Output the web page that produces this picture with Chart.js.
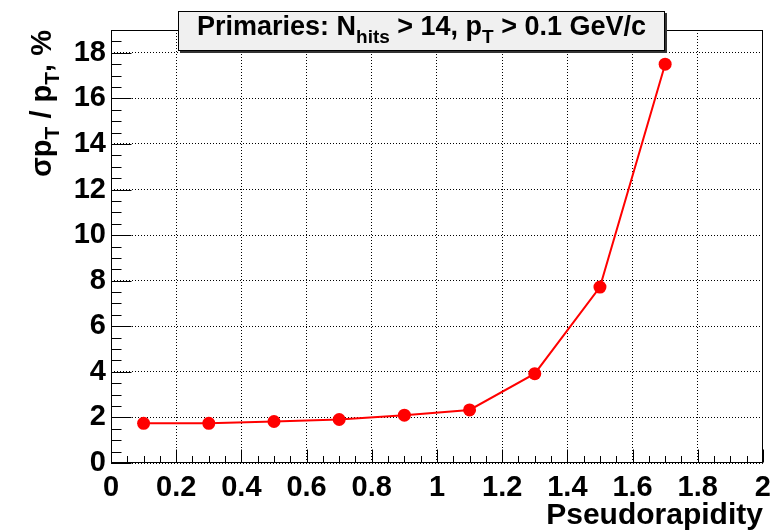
<!DOCTYPE html>
<html><head><meta charset="utf-8">
<script src="https://cdn.jsdelivr.net/npm/chart.js@4/dist/chart.umd.min.js"></script>
<style>html,body{margin:0;padding:0;background:#fff;overflow:hidden}</style>
</head><body>
<canvas id="c" width="779" height="531"></canvas>
<script>
// ---- data ----
const etaValues = [0.1, 0.3, 0.5, 0.7, 0.9, 1.1, 1.3, 1.5, 1.7];
const resolution = [1.74, 1.74, 1.82, 1.91, 2.10, 2.33, 3.92, 7.72, 17.5];
const xTickValues = [0, 0.2, 0.4, 0.6, 0.8, 1, 1.2, 1.4, 1.6, 1.8, 2];
const xTickLabels = ['0', '0.2', '0.4', '0.6', '0.8', '1', '1.2', '1.4', '1.6', '1.8', '2'];
const yTickValues = [0, 2, 4, 6, 8, 10, 12, 14, 16, 18];
const yTickLabels = ['0', '2', '4', '6', '8', '10', '12', '14', '16', '18'];
// text pieces: [text, isSubscript]
const titleParts = [['Primaries: N', false], ['hits', true], [' > 14, p', false], ['T', true], [' > 0.1 GeV/c', false]];
const yTitleParts = [['\u03C3p', false], ['T', true], [' / p', false], ['T', true], [', %', false]];
const xTitleText = 'Pseudorapidity';

const FONT = '"Liberation Sans", Arial, Helvetica, sans-serif';

function drawRich(ctx, parts, size, subSize, subDrop, align) {
  let widths = parts.map(p => { ctx.font = 'bold ' + (p[1] ? subSize : size) + 'px ' + FONT; return ctx.measureText(p[0]).width; });
  const total = widths.reduce((a, b) => a + b, 0);
  let x = align === 'right' ? -total : align === 'center' ? -total / 2 : 0;
  ctx.textAlign = 'left';
  ctx.textBaseline = 'alphabetic';
  parts.forEach((p, i) => {
    ctx.font = 'bold ' + (p[1] ? subSize : size) + 'px ' + FONT;
    ctx.fillText(p[0], x, p[1] ? subDrop : 0);
    x += widths[i];
  });
}

const decor = {
  id: 'rootDecor',
  afterDraw(chart) {
    const ctx = chart.ctx;
    const a = chart.chartArea;
    const xs = chart.scales.x, ys = chart.scales.y;
    ctx.save();
    ctx.strokeStyle = '#000';
    ctx.lineWidth = 1;
    const L = Math.round(a.left) + 0.5, R = Math.round(a.right) - 0.5;
    const T = Math.round(a.top) + 0.5, B = Math.round(a.bottom) - 0.5;
    ctx.strokeRect(L, T, R - L, B - T);
    ctx.beginPath();
    for (let v = ys.min; v <= ys.max + 1e-9; v += 0.5) {
      const isMajor = Math.abs(v / 2 - Math.round(v / 2)) < 1e-6;
      const len = isMajor ? 20 : 10;
      const py = Math.round(ys.getPixelForValue(v)) + 0.5;
      ctx.moveTo(L, py); ctx.lineTo(L + len, py);
    }
    for (let k = 0; k <= 40; k++) {
      const v = xs.min + k * 0.05;
      const isMajor = k % 4 === 0;
      const len = isMajor ? 13 : 6.5;
      const px = Math.round(xs.getPixelForValue(v)) + 0.5;
      ctx.moveTo(px, B); ctx.lineTo(px, B - len);
    }
    ctx.stroke();

    // title box
    const bx = 178, by = 11, bw = 487, bh = 40;
    ctx.fillStyle = '#333';
    ctx.fillRect(bx + 2, by + 2, bw, bh);
    ctx.fillStyle = '#f0f0f0';
    ctx.fillRect(bx, by, bw, bh);
    ctx.strokeStyle = '#000';
    ctx.strokeRect(bx + 0.5, by + 0.5, bw - 1, bh - 1);
    ctx.fillStyle = '#000';
    ctx.save();
    ctx.translate(bx + bw / 2, 35);
    drawRich(ctx, titleParts, 27, 19, 8, 'center');
    ctx.restore();

    // y title
    ctx.save();
    ctx.translate(51, a.top);
    ctx.rotate(-Math.PI / 2);
    drawRich(ctx, yTitleParts, 29, 21, 8, 'right');
    ctx.restore();

    // x title
    ctx.save();
    ctx.translate(a.right, 524);
    drawRich(ctx, [[xTitleText, false]], 30, 21, 0, 'right');
    ctx.restore();
    ctx.restore();
  }
};

new Chart(document.getElementById('c'), {
  type: 'scatter',
  data: {
    datasets: [{
      data: etaValues.map((x, i) => ({ x: x, y: resolution[i] })),
      showLine: true,
      borderColor: '#ff0000',
      backgroundColor: '#ff0000',
      borderWidth: 2,
      pointRadius: 6.5,
      pointHoverRadius: 6.5,
      pointBorderWidth: 0,
      tension: 0
    }]
  },
  options: {
    responsive: false,
    animation: false,
    devicePixelRatio: 1,
    layout: { padding: { left: 0, right: 16, top: 30, bottom: 0 } },
    plugins: { legend: { display: false }, tooltip: { enabled: false }, title: { display: false } },
    scales: {
      x: {
        type: 'linear', min: 0, max: 2,
        afterBuildTicks: s => { s.ticks = xTickValues.map(v => ({ value: v })); },
        afterFit: s => { s.height = 68; },
        grid: { color: '#000', lineWidth: 1, drawTicks: false },
        border: { display: false, dash: [1, 2] },
        ticks: {
          autoSkip: false, maxRotation: 0, minRotation: 0, padding: 8,
          color: '#000', font: { family: FONT, size: 29, weight: 'bold' },
          callback: (v, i) => xTickLabels[i]
        }
      },
      y: {
        type: 'linear', min: 0, max: 19,
        afterBuildTicks: s => { s.ticks = yTickValues.map(v => ({ value: v })); },
        afterFit: s => { s.width = 111; },
        grid: { color: '#000', lineWidth: 1, drawTicks: false },
        border: { display: false, dash: [1, 2] },
        ticks: {
          autoSkip: false, padding: 5,
          color: '#000', font: { family: FONT, size: 29, weight: 'bold' },
          callback: (v, i) => yTickLabels[i]
        }
      }
    }
  },
  plugins: [decor]
});
</script>
</body></html>
